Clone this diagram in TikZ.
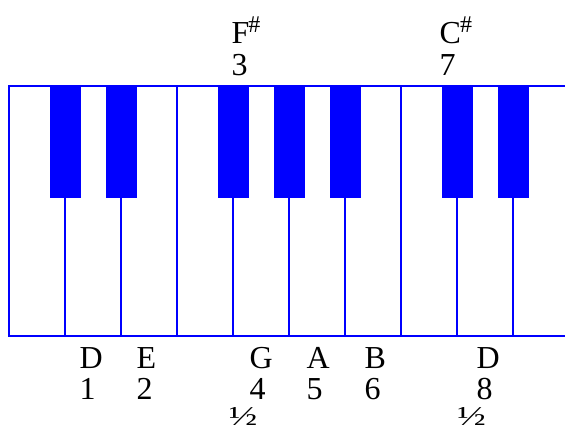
\documentclass[tikz,border=0pt]{standalone}
\usepackage{fontspec}
\setmainfont{Liberation Serif}
\begin{document}
\begin{tikzpicture}[x=1pt,y=-1pt,
  whitekey/.style={draw=blue, line width=1.6pt, fill=white},
  blackkey/.style={draw=blue, line width=1pt, fill=blue},
  lbl/.style={inner sep=0pt, anchor=base west, font=\fontsize{32}{32}\selectfont},
  half/.style={inner sep=0pt, anchor=base, font=\fontsize{38}{38}\selectfont}]
\useasboundingbox (0,0) rectangle (565,432);
\clip (0,0) rectangle (565,432);
\foreach \i in {0,...,9} \draw[whitekey] ({9+56*\i},86) rectangle ++(56,250);
\foreach \c in {65,121,233,289,345,457,513} \draw[blackkey] ({\c-15},86) rectangle ({\c+15},197);
% sharps above
\node[lbl] (fs) at (231.5,43) {F\kern-1pt\raisebox{11pt}{\fontsize{24}{24}\selectfont\#}};
\node[lbl] (fsn) at (231.5,75) {3};
\node[lbl] (cs) at (439.5,43) {C\kern-1pt\raisebox{11pt}{\fontsize{24}{24}\selectfont\#}};
\node[lbl] (csn) at (439.5,75) {7};
% notes below
\foreach \x/\l/\n/\k in {79.5/D/1/a, 136.5/E/2/b, 249.5/G/4/c, 306.5/A/5/d, 364.5/B/6/e, 476.5/D/8/f}{
  \node[lbl] (l\k) at (\x,368) {\l};
  \node[lbl] (n\k) at (\x,399) {\n};
}
\node[half] (h1) at (243,425.5) {\scalebox{1}[0.72]{½}};
\node[half] (h2) at (471.5,425.5) {\scalebox{1}[0.72]{½}};
\end{tikzpicture}
\end{document}
